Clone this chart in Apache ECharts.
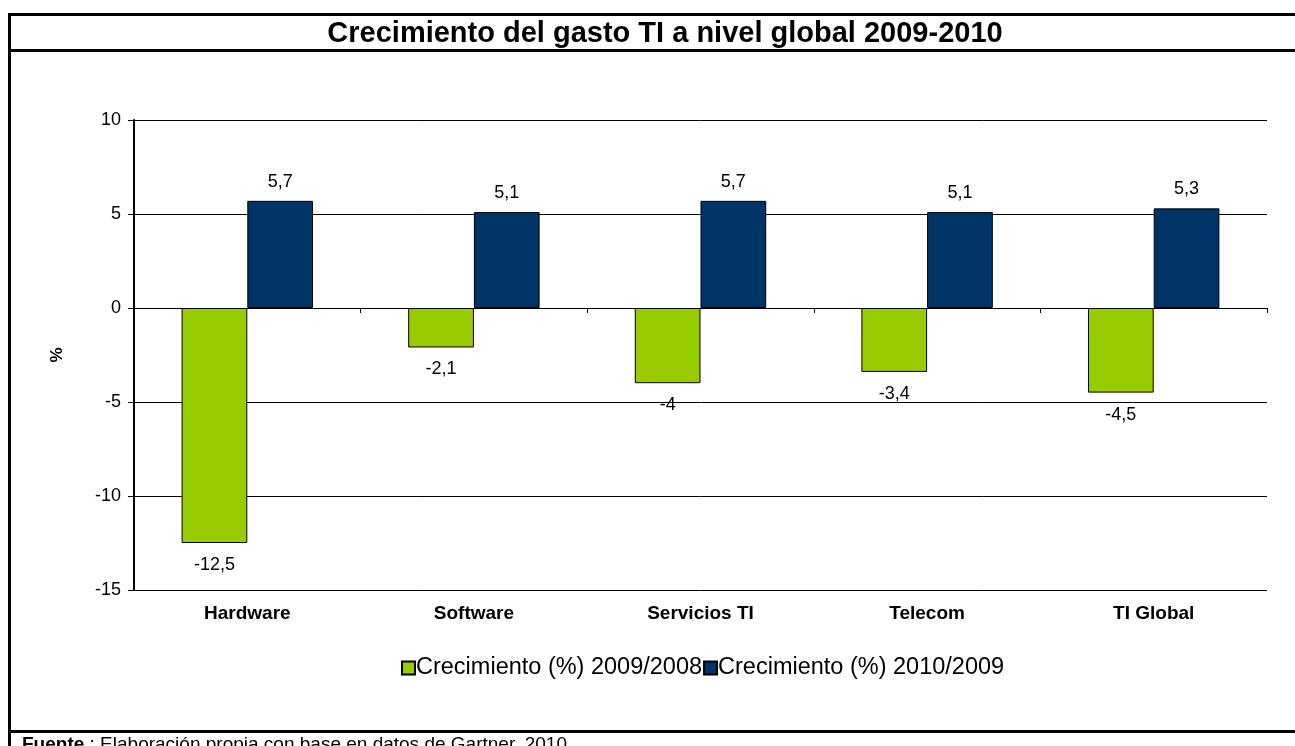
<!DOCTYPE html>
<html>
<head>
<meta charset="utf-8">
<script src="https://cdn.jsdelivr.net/npm/echarts@6/dist/echarts.min.js"></script>
<style>
  html, body { margin: 0; padding: 0; background: #fff; }
  #chart { width: 1295px; height: 746px; }
</style>
</head>
<body>
<div id="chart"></div>
<script>
const categories = ['Hardware', 'Software', 'Servicios TI', 'Telecom', 'TI Global'];
const growth2009 = [-12.5, -2.1, -4, -3.4, -4.5];
const growth2010 = [5.7, 5.1, 5.7, 5.1, 5.3];
const seriesNames = ['Crecimiento (%) 2009/2008', 'Crecimiento (%) 2010/2009'];

const font = "'Liberation Sans', Arial, sans-serif";
const comma = function (p) { return String(p.value).replace('.', ','); };

const chart = echarts.init(document.getElementById('chart'));

chart.setOption({
  animation: false,
  backgroundColor: '#fff',
  textStyle: { fontFamily: font, color: '#000' },
  title: {
    text: 'Crecimiento del gasto TI a nivel global 2009-2010',
    left: 660,
    top: 14,
    textAlign: 'center',
    textStyle: { fontFamily: font, fontSize: 29, fontWeight: 'bold', color: '#000' }
  },
  legend: {
    data: seriesNames,
    left: 396,
    top: 651,
    itemWidth: 13,
    itemHeight: 13,
    itemGap: 1,
    icon: 'rect',
    textStyle: { fontFamily: font, fontSize: 23.5, color: '#000', padding: [0, 0, 0, -4] }
  },
  grid: { left: 134, right: 28, top: 120, bottom: 156 },
  xAxis: [
    {
      type: 'category',
      data: categories,
      position: 'bottom',
      axisLine: { show: false, onZero: false },
      axisTick: { show: false },
      axisLabel: { fontFamily: font, fontSize: 19, fontWeight: 'bold', color: '#000', margin: 14 },
      splitLine: { show: false }
    },
    {
      type: 'category',
      data: categories,
      position: 'bottom',
      axisLine: { show: true, onZero: true, lineStyle: { color: '#000', width: 1 } },
      axisTick: { show: true, length: 5, lineStyle: { color: '#000' } },
      axisLabel: { show: false },
      splitLine: { show: false }
    }
  ],
  yAxis: {
    type: 'value',
    min: -15,
    max: 10,
    interval: 5,
    name: '%',
    nameLocation: 'middle',
    nameRotate: 90,
    nameGap: 68,
    nameTextStyle: { fontFamily: font, fontSize: 17, fontWeight: 'bold', color: '#000' },
    axisLine: { show: true, lineStyle: { color: '#000', width: 2 } },
    axisTick: { show: true, length: 6, lineStyle: { color: '#000' } },
    axisLabel: { fontFamily: font, fontSize: 18, color: '#000', margin: 13 },
    splitLine: { show: true, lineStyle: { color: '#000', width: 1 } }
  },
  series: [
    {
      name: seriesNames[0],
      type: 'bar',
      data: growth2009,
      barWidth: '29%',
      barGap: '0%',
      itemStyle: { color: '#99CC00', borderColor: '#000', borderWidth: 1 },
      label: { show: true, position: 'bottom', distance: 13, fontSize: 18, color: '#000', fontFamily: font, formatter: comma }
    },
    {
      name: seriesNames[1],
      type: 'bar',
      data: growth2010,
      barWidth: '29%',
      barGap: '0%',
      itemStyle: { color: '#003366', borderColor: '#000', borderWidth: 1 },
      label: { show: true, position: 'top', distance: 10, fontSize: 18, color: '#000', fontFamily: font, formatter: comma }
    }
  ],
  graphic: [
    { type: 'line', shape: { x1: 8, y1: 14.5, x2: 1295, y2: 14.5 }, style: { stroke: '#000', lineWidth: 3 } },
    { type: 'line', shape: { x1: 9.5, y1: 13, x2: 9.5, y2: 746 }, style: { stroke: '#000', lineWidth: 3 } },
    { type: 'line', shape: { x1: 8, y1: 50.5, x2: 1295, y2: 50.5 }, style: { stroke: '#000', lineWidth: 3 } },
    { type: 'line', shape: { x1: 8, y1: 731.5, x2: 1295, y2: 731.5 }, style: { stroke: '#000', lineWidth: 3 } },
    {
      type: 'text',
      left: 22,
      top: 735,
      style: {
        text: '{b|Fuente} : Elaboración propia con base en datos de Gartner, 2010',
        fontFamily: font,
        fontSize: 19,
        fill: '#000',
        rich: { b: { fontWeight: 'bold', fontSize: 19, fontFamily: font } }
      }
    }
  ]
});
</script>
</body>
</html>
